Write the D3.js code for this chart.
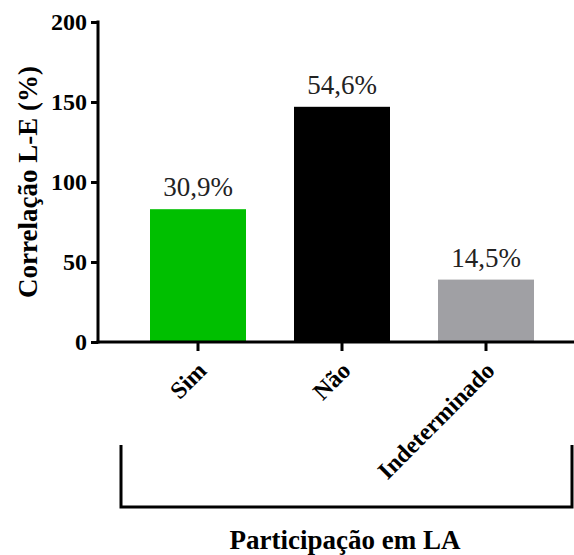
<!DOCTYPE html>
<html>
<head>
<meta charset="utf-8">
<script src="https://cdn.jsdelivr.net/npm/d3@7"></script>
</head>
<body style="margin:0">
<div id="chart-area"></div>
<script>
// data
var categories = ["Sim", "Não", "Indeterminado"];
var counts = [83, 147, 39];
var pctLabels = ["30,9%", "54,6%", "14,5%"];
var barColors = ["#00bf00", "#000000", "#a0a0a4"];
var yTicks = [0, 50, 100, 150, 200];

var svg = d3.select("#chart-area")
    .append("svg")
        .attr("width", 574)
        .attr("height", 555);

// Scales
var x = d3.scaleBand()
    .domain(categories)
    .range([126, 558])
    .paddingInner(1/3)
    .paddingOuter(1/6);

var y = d3.scaleLinear()
    .domain([0, 200])
    .range([342, 22]);

var axisX0 = 98, axisX1 = 574;

// Bars
svg.selectAll("rect.bar")
    .data(counts)
    .enter().append("rect")
        .attr("class", "bar")
        .attr("x", function(d, i){ return x(categories[i]); })
        .attr("width", x.bandwidth())
        .attr("y", function(d){ return y(d); })
        .attr("height", function(d){ return y(0) - y(d); })
        .attr("fill", function(d, i){ return barColors[i]; });

// Value labels
svg.selectAll("text.val")
    .data(counts)
    .enter().append("text")
        .attr("class", "val")
        .attr("x", function(d, i){ return x(categories[i]) + x.bandwidth() / 2; })
        .attr("y", function(d){ return y(d) - 13; })
        .attr("text-anchor", "middle")
        .attr("font-family", "Liberation Serif")
        .attr("font-size", "27px")
        .attr("fill", "#222")
        .text(function(d, i){ return pctLabels[i]; });

// Y Axis
var yAxisCall = d3.axisLeft(y)
    .tickValues(yTicks)
    .tickSize(7)
    .tickSizeOuter(0)
    .tickPadding(4);
var yAxis = svg.append("g")
    .attr("class", "y axis")
    .attr("transform", "translate(" + axisX0 + ",0)")
    .call(yAxisCall);
yAxis.select(".domain").remove();
yAxis.selectAll(".tick line").attr("stroke", "#000").attr("stroke-width", 3);
yAxis.selectAll(".tick text")
    .attr("font-family", "Liberation Serif")
    .attr("font-size", "24px")
    .attr("font-weight", "bold")
    .attr("fill", "#000");

svg.append("line")
    .attr("x1", axisX0).attr("x2", axisX0)
    .attr("y1", y(200) - 1.5).attr("y2", y(0) + 1.5)
    .attr("stroke", "#000").attr("stroke-width", 3);

// X Axis
var xAxisCall = d3.axisBottom(x)
    .tickSize(9)
    .tickSizeOuter(0);
var xAxis = svg.append("g")
    .attr("class", "x axis")
    .attr("transform", "translate(0," + y(0) + ")")
    .call(xAxisCall);
xAxis.select(".domain").remove();
xAxis.selectAll(".tick line").attr("stroke", "#000").attr("stroke-width", 3);
xAxis.selectAll(".tick text")
    .attr("font-family", "Liberation Serif")
    .attr("font-size", "24px")
    .attr("font-weight", "bold")
    .attr("fill", "#000")
    .attr("text-anchor", "end")
    .attr("dy", null)
    .attr("y", 0)
    .attr("transform", "translate(10,30) rotate(-45)");

svg.append("line")
    .attr("x1", axisX0 - 1.5).attr("x2", axisX1)
    .attr("y1", y(0)).attr("y2", y(0))
    .attr("stroke", "#000").attr("stroke-width", 3);

// Bracket under categories
svg.append("path")
    .attr("d", d3.line()([[121, 445], [121, 507], [572, 507], [572, 445]]))
    .attr("fill", "none")
    .attr("stroke", "#000")
    .attr("stroke-width", 3);

// Labels
svg.append("text")
    .attr("x", 345)
    .attr("y", 549)
    .attr("font-family", "Liberation Serif")
    .attr("font-size", "27px")
    .attr("font-weight", "bold")
    .attr("text-anchor", "middle")
    .text("Participação em LA");

svg.append("text")
    .attr("transform", "translate(37,182) rotate(-90)")
    .attr("font-family", "Liberation Serif")
    .attr("font-size", "27px")
    .attr("font-weight", "bold")
    .attr("text-anchor", "middle")
    .text("Correlação L-E (%)");
</script>
</body>
</html>
